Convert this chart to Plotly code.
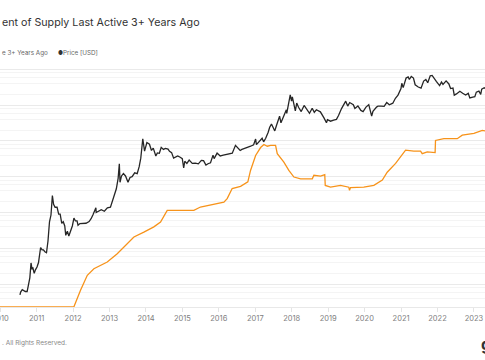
import plotly.graph_objects as go

# ---- data ----
price_dates = [
"2010-07-18","2010-07-25","2010-08-10","2010-08-25","2010-09-10","2010-09-28","2010-10-10","2010-10-25","2010-11-06","2010-11-15",
"2010-11-25","2010-12-08","2010-12-20","2011-01-05","2011-01-20","2011-02-10","2011-02-25","2011-03-10","2011-03-25","2011-04-10",
"2011-04-25","2011-05-10","2011-05-25","2011-06-08","2011-06-20","2011-07-05","2011-07-25","2011-08-10","2011-08-25","2011-09-10",
"2011-09-25","2011-10-10","2011-10-20","2011-11-05","2011-11-20","2011-12-05","2011-12-25","2012-01-10","2012-01-25","2012-02-10",
"2012-02-20","2012-03-10","2012-04-10","2012-05-10","2012-06-10","2012-06-30","2012-07-20","2012-08-17","2012-08-20","2012-09-10",
"2012-10-10","2012-11-10","2012-12-10","2013-01-10","2013-01-30","2013-02-20","2013-03-10","2013-03-28","2013-04-09","2013-04-16",
"2013-05-01","2013-05-20","2013-06-10","2013-07-05","2013-07-25","2013-08-15","2013-09-10","2013-10-05","2013-10-25","2013-11-10",
"2013-11-30","2013-12-18","2013-12-28","2014-01-10","2014-02-05","2014-02-25","2014-03-15","2014-04-10","2014-04-25","2014-05-15",
"2014-06-03","2014-06-25","2014-07-15","2014-08-10","2014-08-25","2014-09-15","2014-10-05","2014-10-25","2014-11-15","2014-12-10",
"2014-12-31","2015-01-14","2015-01-25","2015-02-15","2015-03-10","2015-04-10","2015-05-10","2015-06-10","2015-07-10","2015-08-01",
"2015-08-25","2015-09-15","2015-10-10","2015-11-04","2015-11-15","2015-12-15","2016-01-15","2016-02-15","2016-03-15","2016-04-15",
"2016-05-15","2016-06-16","2016-07-05","2016-08-02","2016-08-20","2016-09-15","2016-10-15","2016-11-15","2016-12-15","2017-01-04",
"2017-01-12","2017-02-15","2017-03-10","2017-03-25","2017-04-15","2017-05-10","2017-05-25","2017-06-12","2017-07-15","2017-08-01",
"2017-09-01","2017-09-15","2017-10-10","2017-11-08","2017-11-12","2017-12-17","2017-12-30","2018-01-07","2018-02-06","2018-02-20",
"2018-03-10","2018-04-06","2018-05-05","2018-06-10","2018-06-28","2018-07-25","2018-08-15","2018-09-05","2018-10-15","2018-11-20",
"2018-12-15","2018-12-25","2019-01-25","2019-02-25","2019-03-25","2019-04-15","2019-05-15","2019-06-26","2019-07-16","2019-08-05",
"2019-09-10","2019-09-26","2019-10-26","2019-11-25","2019-12-17","2020-01-15","2020-02-12","2020-03-12","2020-03-25","2020-04-30",
"2020-05-15","2020-06-15","2020-07-15","2020-08-10","2020-09-05","2020-10-10","2020-11-05","2020-12-01","2020-12-31","2021-01-08",
"2021-01-22","2021-02-20","2021-03-13","2021-03-25","2021-04-13","2021-05-05","2021-05-22","2021-06-22","2021-07-20","2021-08-15",
"2021-09-06","2021-09-25","2021-10-20","2021-11-08","2021-11-30","2021-12-20","2022-01-22","2022-02-10","2022-02-25","2022-03-28",
"2022-04-25","2022-05-12","2022-06-05","2022-06-18","2022-07-10","2022-08-13","2022-09-10","2022-10-10","2022-11-05","2022-11-21",
"2022-12-20","2023-01-10","2023-01-25","2023-02-20","2023-03-10","2023-03-20","2023-04-14","2023-04-22"]
price_usd = [
0.05,0.06,0.07,0.065,0.062,0.062,0.09,0.15,0.39,0.27,
0.28,0.20,0.25,0.30,0.40,1.05,0.90,0.90,0.80,0.75,
1.6,5.5,8.5,29.6,17,14,14,9,9,5,
5.5,4.2,2.3,3.0,2.2,2.9,4.2,7.0,5.8,5.8,
4.4,4.9,4.9,5.0,5.6,6.7,8.8,13.5,10,11,
12,10.8,13.5,14,20,29,46,90,230,70,
105,122,105,70,95,100,128,122,190,330,
1150,520,740,900,810,540,630,380,460,450,
660,580,620,590,510,470,330,350,380,350,
320,175,270,235,290,235,240,228,285,280,
210,230,245,400,320,455,380,400,415,430,
455,750,670,540,580,610,640,710,780,1130,
790,1000,1190,940,1180,1750,2400,2950,1900,2700,
4900,3200,4800,7400,5900,19300,13000,17000,6900,11400,
8700,6600,9800,6800,5900,8200,6300,7400,6500,4400,
3200,3900,3550,3800,4000,5100,8000,12900,9400,11800,
10300,8100,9500,7100,6600,8800,10300,4900,6700,8800,
9400,9400,9200,11800,10200,11300,15500,19000,29000,40800,
30800,57000,61000,52000,63500,57000,37000,32000,29800,47000,
52000,42000,66000,67500,57000,46000,35000,44000,38000,47500,
39000,29000,30000,19000,20500,24400,21500,19200,21300,15800,
16800,17200,23000,24500,20000,28000,30500,29300]

supply_dates = [
"2009-12-30","2012-01-09","2012-03-16","2012-05-23","2012-07-28","2012-10-03","2012-12-09","2013-03-19","2013-05-25","2013-07-14",
"2013-09-02","2013-12-11","2014-03-21","2014-05-27","2014-08-02","2014-12-14","2015-04-26","2015-07-01","2015-11-12","2016-02-21",
"2016-03-25","2016-05-14","2016-08-06","2016-10-18","2016-11-14","2017-01-04","2017-02-23","2017-03-28","2017-05-01","2017-06-03",
"2017-07-23","2017-08-09","2017-10-14","2017-12-03","2018-01-23","2018-03-31","2018-07-26","2018-08-11","2018-10-17","2018-11-28",
"2018-12-03","2019-01-25","2019-05-05","2019-07-27","2019-08-03","2019-08-13","2019-12-24","2020-04-03","2020-06-27","2020-08-15",
"2020-11-07","2020-12-27","2021-02-15","2021-05-09","2021-07-15","2021-08-01","2021-09-20","2021-12-08","2021-12-12","2022-03-06",
"2022-07-18","2022-09-06","2023-01-01","2023-03-26","2023-04-22"]
supply_pct = [
0,0,3.8,7.2,8.7,9.5,10.2,12.1,13.6,14.8,
15.9,17.0,18.2,19.3,21.95,21.95,21.95,22.7,23.3,23.8,
24.6,26.9,27.4,28.4,31.0,34.4,36.2,36.9,36.5,36.7,
36.7,34.8,32.9,31.0,29.5,29.1,29.1,29.9,29.7,30.05,
27.6,27.2,27.6,27.2,26.5,27.1,27.2,27.6,28.8,30.6,
32.6,34.05,35.6,35.4,35.4,34.8,35.2,35.05,37.8,38.2,
38.2,39.0,39.4,40.1,40.0]

major_vals = [0.01, 0.1, 1, 10, 100, 1000, 10000, 100000]
minor_vals = [m * d for d in major_vals for m in (2, 4, 6, 8)]

title_text = "ent of Supply Last Active 3+ Years Ago"
legend_a = "e 3+ Years Ago"
legend_b = "Price [USD]"
footer_text = ". All Rights Reserved."

FONT = "Inter"
fig = go.Figure()
fig.add_trace(go.Scatter(x=supply_dates, y=supply_pct, mode="lines", yaxis="y",
                         line=dict(color="#f7931a", width=1.3), showlegend=False))
fig.add_trace(go.Scatter(x=price_dates, y=price_usd, mode="lines", yaxis="y2",
                         line=dict(color="#262626", width=1.3), showlegend=False))

fig.update_layout(
    width=485, height=360,
    margin=dict(l=0, r=0, t=60, b=53),
    paper_bgcolor="white", plot_bgcolor="white",
    font=dict(family=FONT),
    xaxis=dict(type="date", range=["2009-12-30", "2023-04-22"], automargin=False,
               dtick="M12", tick0="2010-01-01", tickformat="%Y",
               ticks="outside", ticklen=4, tickcolor="#e4e4e4",
               showline=True, linecolor="#e8e8e8", linewidth=1,
               showgrid=False, zeroline=False, ticklabeloverflow="allow",
               tickfont=dict(family=FONT, size=7.5, color="#808080")),
    yaxis=dict(range=[0, 56.07], showgrid=False, showticklabels=False,
               zeroline=False, showline=False, automargin=False),
    yaxis2=dict(type="log", range=[-1.64, 5.26], overlaying="y", side="right",
                tickmode="array", tickvals=major_vals, showticklabels=False,
                showgrid=True, gridcolor="#eaeaea", gridwidth=1,
                minor=dict(tickmode="array", tickvals=minor_vals, showgrid=True,
                           gridcolor="#f4f4f4", gridwidth=1),
                zeroline=False, showline=False, automargin=False),
)

def yp(px):
    return (307 - px) / 247.0

anns = [
    dict(text=title_text, x=0, y=yp(22), xanchor="left", yanchor="middle",
         font=dict(family=FONT, size=10.7, color="#333")),
    dict(text=legend_a, x=0, y=yp(53), xanchor="left", yanchor="middle",
         font=dict(family=FONT, size=6.3, color="#666")),
    dict(text="●", x=56 / 485, y=yp(53), xanchor="left", yanchor="middle",
         font=dict(family=FONT, size=5.5, color="#333")),
    dict(text=legend_b, x=61 / 485, y=yp(53), xanchor="left", yanchor="middle",
         font=dict(family=FONT, size=6.3, color="#666")),
    dict(text=footer_text, x=0, y=yp(343), xanchor="left", yanchor="middle",
         font=dict(family=FONT, size=6.5, color="#888")),
    dict(text="<b>g</b>", x=479 / 485, y=yp(344), xanchor="left", yanchor="middle",
         font=dict(family=FONT, size=16, color="#333")),
]
for a in anns:
    a.update(xref="paper", yref="paper", showarrow=False)
fig.update_layout(annotations=anns)

fig.write_html("out.html",
               config={"displayModeBar": False, "staticPlot": True},
               post_script="document.body.style.margin='0';document.body.style.overflow='hidden';")
